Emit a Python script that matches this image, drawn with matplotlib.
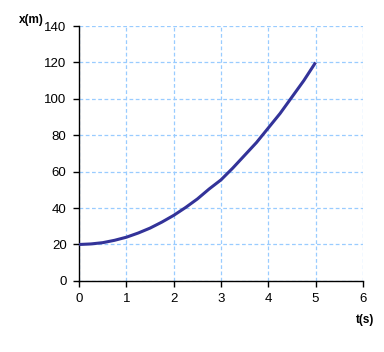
import matplotlib
matplotlib.use('Agg')
from matplotlib import pyplot as plt

# values
t = [0, 0.25, 0.5, 0.75, 1.0, 1.25, 1.5, 1.75, 2.0, 2.25, 2.5, 2.75, 3.0,
     3.25, 3.5, 3.75, 4.0, 4.25, 4.5, 4.75, 5.0]
x = [20, 20.3, 21, 22.3, 24, 26.3, 29, 32.3, 36, 40.3, 45, 50.5, 55.5,
     62, 69, 76, 84, 92, 101, 110, 120]

xticks = [0, 1, 2, 3, 4, 5, 6]
yticks = [0, 20, 40, 60, 80, 100, 120, 140]

plt.rcParams['font.family'] = ['Liberation Sans', 'DejaVu Sans']

fig = plt.figure(figsize=(3.84, 3.52), dpi=100)
ax = fig.add_axes([0.206, 0.202, 0.739, 0.724])

ax.plot(t, x, color='#333399', lw=2.2, solid_capstyle='butt', zorder=3)

ax.set_xlim(0, 6)
ax.set_ylim(0, 140)
ax.set_xticks(xticks)
ax.set_yticks(yticks)
ax.grid(True, color='#99CCFF', linestyle=(0, (3, 2)), lw=0.9)
ax.spines['top'].set_visible(False)
ax.spines['right'].set_visible(False)
ax.tick_params(direction='out', length=4, width=1, labelsize=9.5, pad=5)
for s in ['left', 'bottom']:
    ax.spines[s].set_linewidth(1)

fig.text(31 / 384, 1 - 20 / 352, 'x(m)', fontsize=8.5, fontweight='bold',
         ha='center', va='center')
fig.text(365 / 384, 1 - 320 / 352, 't(s)', fontsize=8.5, fontweight='bold',
         ha='center', va='center')

fig.savefig('out.png', dpi=100)
